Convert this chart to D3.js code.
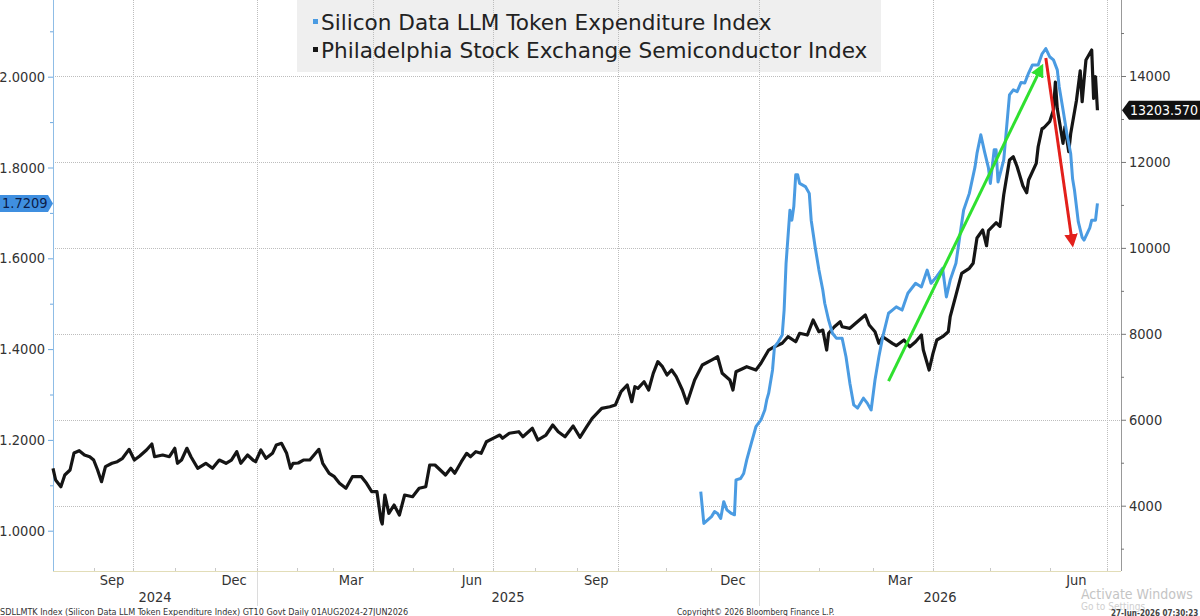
<!DOCTYPE html>
<html>
<head>
<meta charset="utf-8">
<script src="https://cdn.jsdelivr.net/npm/d3@7"></script>
<style>
  body { margin: 0; background: #fff; }
  svg { display: block; }
  text { font-family: "DejaVu Sans Condensed", "DejaVu Sans", sans-serif; font-stretch: condensed; }
  .legend text { font-family: "DejaVu Sans", sans-serif; font-stretch: normal; }
</style>
</head>
<body>
<script>
// chart size and plot box
var width = 1200, height = 616;
var plot = {left: 53, right: 1121, top: 0, bottom: 571};

// Philadelphia Semiconductor Index (right axis)
var soxDates = ["2024-08-01","2024-08-03","2024-08-07","2024-08-10","2024-08-14","2024-08-17","2024-08-21","2024-08-25","2024-08-29","2024-09-01",
  "2024-09-04","2024-09-07","2024-09-10","2024-09-15","2024-09-19","2024-09-23","2024-09-28","2024-10-02","2024-10-06","2024-10-11",
  "2024-10-15","2024-10-17","2024-10-23","2024-10-28","2024-11-01","2024-11-03","2024-11-06","2024-11-10","2024-11-13","2024-11-18",
  "2024-11-24","2024-11-29","2024-12-04","2024-12-09","2024-12-13","2024-12-17","2024-12-20","2024-12-25","2024-12-29","2024-12-31",
  "2025-01-04","2025-01-08","2025-01-13","2025-01-16","2025-01-20","2025-01-24","2025-01-27","2025-01-29","2025-02-02","2025-02-06",
  "2025-02-11","2025-02-18","2025-02-21","2025-02-26","2025-03-02","2025-03-06","2025-03-11","2025-03-16","2025-03-23","2025-03-27",
  "2025-03-31","2025-04-04","2025-04-07","2025-04-08","2025-04-10","2025-04-13","2025-04-17","2025-04-21","2025-04-25","2025-05-01",
  "2025-05-06","2025-05-11","2025-05-14","2025-05-18","2025-05-26","2025-05-30","2025-06-02","2025-06-07","2025-06-11","2025-06-14",
  "2025-06-18","2025-06-22","2025-06-26","2025-07-01","2025-07-06","2025-07-08","2025-07-13","2025-07-20","2025-07-23","2025-07-30",
  "2025-08-03","2025-08-09","2025-08-14","2025-08-18","2025-08-23","2025-08-29","2025-09-03","2025-09-08","2025-09-12","2025-09-19",
  "2025-09-25","2025-09-29","2025-10-03","2025-10-07","2025-10-10","2025-10-12","2025-10-14","2025-10-18","2025-10-21","2025-10-24",
  "2025-10-27","2025-10-30","2025-11-02","2025-11-05","2025-11-08","2025-11-12","2025-11-15","2025-11-20","2025-11-25","2025-12-01",
  "2025-12-05","2025-12-08","2025-12-13","2025-12-15","2025-12-17","2025-12-24","2025-12-30","2026-01-02","2026-01-06","2026-01-09",
  "2026-01-13","2026-01-16","2026-01-20","2026-01-22","2026-01-26","2026-01-29","2026-02-01","2026-02-03","2026-02-05","2026-02-06",
  "2026-02-09","2026-02-12","2026-02-13","2026-02-17","2026-02-20","2026-02-25","2026-02-27","2026-03-02","2026-03-04","2026-03-06",
  "2026-03-11","2026-03-13","2026-03-17","2026-03-20","2026-03-23","2026-03-26","2026-03-27","2026-03-30","2026-04-01","2026-04-03",
  "2026-04-06","2026-04-09","2026-04-10","2026-04-13","2026-04-16","2026-04-20","2026-04-22","2026-04-24","2026-04-27","2026-04-29",
  "2026-04-30","2026-05-04","2026-05-06","2026-05-08","2026-05-11","2026-05-13","2026-05-15","2026-05-18","2026-05-20","2026-05-21",
  "2026-05-25","2026-05-26","2026-05-28","2026-05-29","2026-06-01","2026-06-03","2026-06-04","2026-06-05","2026-06-08","2026-06-09",
  "2026-06-11","2026-06-12","2026-06-15","2026-06-17","2026-06-18","2026-06-19","2026-06-20","2026-06-23","2026-06-24","2026-06-25",
  "2026-06-26"];
var soxValues = [4870,4598,4442,4714,4831,5226,5280,5180,5140,5063,
  4831,4558,4908,4987,5024,5103,5312,5063,5157,5296,
  5436,5140,5180,5140,5336,4987,5063,5336,5140,4870,
  4987,4870,5063,4987,5063,5257,4987,5180,5063,5024,
  5296,5103,5219,5413,5452,5219,4870,4987,4994,5063,
  5063,5312,4987,4754,4675,4521,4405,4675,4675,4521,
  4326,4326,3667,3574,4249,3823,4016,3784,4249,4209,
  4405,4442,4947,4947,4714,4870,4754,5024,5219,5140,
  5257,5219,5489,5568,5645,5568,5685,5722,5606,5801,
  5529,5645,5878,5722,5606,5855,5592,5838,6034,6266,
  6304,6343,6653,6809,6420,6769,6732,6885,6692,7081,
  7351,7235,7041,7158,7002,6692,6383,6925,7274,7390,
  7467,7081,6925,6692,7118,7235,7158,7314,7623,7700,
  7779,7933,7816,8012,7972,8321,8049,8088,7623,8012,
  8165,8282,8165,8128,8244,8438,8205,8049,7779,7933,
  7779,7723,7856,7700,7816,7972,7623,7158,7546,7856,
  7933,8049,8400,8900,9408,9524,9641,10229,10415,10050,
  10400,10585,10500,11237,12045,12121,11888,11446,11284,11579,
  11968,12354,12773,12796,12936,13208,13860,13238,12433,12819,
  12238,12657,13424,14122,13401,13906,14372,14604,13480,13983,
  13203.57];

// Silicon Data LLM Token Expenditure Index (left axis)
var llmDates = ["2025-11-24","2025-11-26","2025-12-01","2025-12-03","2025-12-05","2025-12-07","2025-12-09","2025-12-11","2025-12-14","2025-12-16",
  "2025-12-17","2025-12-20","2025-12-22","2025-12-24","2025-12-27","2025-12-30","2026-01-02","2026-01-04","2026-01-05","2026-01-06",
  "2026-01-08","2026-01-09","2026-01-11","2026-01-13","2026-01-14","2026-01-15","2026-01-17","2026-01-18","2026-01-19","2026-01-20",
  "2026-01-21","2026-01-22","2026-01-25","2026-01-27","2026-01-28","2026-01-30","2026-02-01","2026-02-03","2026-02-04","2026-02-06",
  "2026-02-08","2026-02-10","2026-02-13","2026-02-15","2026-02-17","2026-02-19","2026-02-21","2026-02-24","2026-02-26","2026-02-28",
  "2026-03-02","2026-03-04","2026-03-06","2026-03-09","2026-03-11","2026-03-13","2026-03-16","2026-03-19","2026-03-23","2026-03-26",
  "2026-03-29","2026-03-31","2026-04-03","2026-04-06","2026-04-08","2026-04-10","2026-04-13","2026-04-15","2026-04-17","2026-04-20",
  "2026-04-23","2026-04-24","2026-04-26","2026-04-28","2026-04-30","2026-05-01","2026-05-03","2026-05-04","2026-05-05","2026-05-08",
  "2026-05-11","2026-05-13","2026-05-15","2026-05-17","2026-05-19","2026-05-21","2026-05-23","2026-05-26","2026-05-28","2026-05-30",
  "2026-06-01","2026-06-03","2026-06-05","2026-06-06","2026-06-08","2026-06-10","2026-06-12","2026-06-13","2026-06-14","2026-06-16",
  "2026-06-18","2026-06-19","2026-06-22","2026-06-23","2026-06-25","2026-06-26"];
var llmValues = [1.086,1.016,1.031,1.042,1.038,1.027,1.064,1.046,1.038,1.035,
  1.112,1.115,1.126,1.156,1.193,1.229,1.244,1.266,1.288,1.303,
  1.354,1.405,1.416,1.431,1.486,1.589,1.706,1.684,1.714,1.784,
  1.784,1.765,1.758,1.743,1.684,1.626,1.574,1.530,1.501,1.464,
  1.435,1.424,1.424,1.383,1.325,1.277,1.270,1.292,1.281,1.266,
  1.332,1.383,1.427,1.479,1.486,1.493,1.486,1.523,1.545,1.537,
  1.574,1.545,1.560,1.578,1.515,1.552,1.589,1.648,1.706,1.743,
  1.802,1.831,1.872,1.834,1.799,1.765,1.839,1.839,1.768,1.817,
  1.960,1.971,1.967,1.987,1.986,2.008,2.026,2.026,2.050,2.062,
  2.044,2.037,2.015,1.978,1.927,1.875,1.831,1.775,1.750,1.680,
  1.646,1.640,1.667,1.684,1.684,1.7209];

// axis ticks
var leftMajor = [1.0, 1.2, 1.4, 1.6, 1.8, 2.0];
var leftMinor = [1.1, 1.3, 1.5, 1.7, 1.9, 2.1];
var rightMajor = [4000, 6000, 8000, 10000, 12000, 14000];
var rightMinor = [3000, 5000, 7000, 9000, 11000, 13000, 15000];
var quarterStarts = ["2024-10-01","2025-01-01","2025-04-01","2025-07-01","2025-10-01","2026-01-01","2026-04-01","2026-07-01"];
var monthLabelDates = ["2024-09-15","2024-12-15","2025-03-15","2025-06-15","2025-09-15","2025-12-15","2026-03-15","2026-06-15"];
var years = ["2024", "2025", "2026"];

// legend + annotations
var seriesNames = ["Silicon Data LLM Token Expenditure Index", "Philadelphia Stock Exchange Semiconductor Index"];
var seriesColors = ["#4a9be2", "#151515"];
var upArrow = {from: ["2026-03-09", 6900], to: ["2026-05-28", 14230]};
var downArrow = {from: ["2026-05-30", 14420], to: ["2026-06-13", 10070]};

var parse = d3.timeParse("%Y-%m-%d");

var svg = d3.select("body").append("svg")
    .attr("width", width)
    .attr("height", height);

// the reference time axis is stretched towards the right, so the scale is piecewise
var x = d3.scaleTime()
    .domain(["2024-08-01","2024-10-01","2025-01-01","2025-04-01","2025-07-01","2025-10-01","2026-01-01","2026-04-01","2026-07-01","2026-07-11"].map(parse))
    .range([53, 133, 257, 373, 493, 618, 759, 933, 1107, plot.right]);
var yL = d3.scaleLinear().domain([1, 2]).range([530.7, 76.7]);
var yR = d3.scaleLinear().domain([4000, 14000]).range([505.7, 76]);

// legend box (under the grid)
svg.append("rect")
    .attr("x", 297).attr("y", 0)
    .attr("width", 584).attr("height", 72)
    .attr("fill", "#efefef");

// grid
var grid = svg.append("g").attr("stroke", "#bdbdbd").attr("stroke-dasharray", "1,1");
grid.selectAll(".h").data(rightMajor).enter().append("line")
    .attr("x1", plot.left).attr("x2", plot.right)
    .attr("y1", function(d) { return Math.round(yR(d)) + 0.5; })
    .attr("y2", function(d) { return Math.round(yR(d)) + 0.5; });
grid.selectAll(".v").data(quarterStarts).enter().append("line")
    .attr("y1", plot.top).attr("y2", plot.bottom)
    .attr("x1", function(d) { return Math.round(x(parse(d))) + 0.5; })
    .attr("x2", function(d) { return Math.round(x(parse(d))) + 0.5; });

// year dividers run down through the labels
var yearStarts = quarterStarts.filter(function(d) { return d.slice(5) == "01-01"; });
svg.selectAll(".ydiv").data(yearStarts).enter().append("line")
    .attr("x1", function(d) { return Math.round(x(parse(d))) + 0.5; })
    .attr("x2", function(d) { return Math.round(x(parse(d))) + 0.5; })
    .attr("y1", plot.bottom).attr("y2", 606)
    .attr("stroke", "#dcdcdc");

// bottom axis
svg.append("line")
    .attr("x1", plot.left).attr("x2", plot.right)
    .attr("y1", plot.bottom + 0.5).attr("y2", plot.bottom + 0.5)
    .attr("stroke", "#e2ddb8");
var months = d3.timeMonth.range(parse("2024-09-01"), parse("2026-07-02"));
svg.selectAll(".mtick").data(months).enter().append("line")
    .attr("x1", function(d) { return Math.round(x(d)) + 0.5; })
    .attr("x2", function(d) { return Math.round(x(d)) + 0.5; })
    .attr("y1", plot.bottom - 3).attr("y2", plot.bottom)
    .attr("stroke", "#c8c8c8");

svg.selectAll(".mlab").data(monthLabelDates).enter().append("text")
    .attr("x", function(d) { return x(parse(d)); })
    .attr("y", 585)
    .attr("text-anchor", "middle")
    .attr("font-size", 14.5)
    .attr("fill", "#333")
    .text(function(d) { return d3.timeFormat("%b")(parse(d)); });

svg.selectAll(".ylab").data(years).enter().append("text")
    .attr("x", function(d) {
      var a = Math.max(x(parse(d + "-01-01")), plot.left);
      var b = Math.min(x(parse((+d + 1) + "-01-01")), plot.right);
      return (a + b) / 2;
    })
    .attr("y", 602)
    .attr("text-anchor", "middle")
    .attr("font-size", 14.5)
    .attr("fill", "#333")
    .text(function(d) { return d; });

// left axis
svg.append("line")
    .attr("x1", plot.left + 0.5).attr("x2", plot.left + 0.5)
    .attr("y1", plot.top).attr("y2", plot.bottom)
    .attr("stroke", "#8fbde6");
var gL = svg.append("g").attr("transform", "translate(" + plot.left + ",0)")
    .call(d3.axisLeft(yL).tickValues(leftMajor).tickFormat(d3.format(".4f")).tickSize(5).tickPadding(3));
var gLm = svg.append("g").attr("transform", "translate(" + plot.left + ",0)")
    .call(d3.axisLeft(yL).tickValues(leftMinor).tickFormat("").tickSize(3));
[gL, gLm].forEach(function(g) {
  g.select(".domain").remove();
  g.selectAll("line").attr("stroke", "#6fa9df");
  g.selectAll("text").attr("font-size", 14.5).attr("fill", "#333")
      .attr("font-family", null);
});

// right axis
svg.append("line")
    .attr("x1", plot.right + 0.5).attr("x2", plot.right + 0.5)
    .attr("y1", plot.top).attr("y2", plot.bottom)
    .attr("stroke", "#999");
var gR = svg.append("g").attr("transform", "translate(" + plot.right + ",0)")
    .call(d3.axisRight(yR).tickValues(rightMajor).tickFormat(d3.format("d")).tickSize(5).tickPadding(3));
var gRm = svg.append("g").attr("transform", "translate(" + plot.right + ",0)")
    .call(d3.axisRight(yR).tickValues(rightMinor).tickFormat("").tickSize(3));
[gR, gRm].forEach(function(g) {
  g.select(".domain").remove();
  g.selectAll("line").attr("stroke", "#777");
  g.selectAll("text").attr("font-size", 14.5).attr("fill", "#333")
      .attr("font-family", null);
});

// series
var sox = soxDates.map(function(d, i) { return {date: parse(d), value: soxValues[i]}; });
var llm = llmDates.map(function(d, i) { return {date: parse(d), value: llmValues[i]}; });

svg.append("path")
    .datum(sox)
    .attr("fill", "none")
    .attr("stroke", seriesColors[1])
    .attr("stroke-width", 3.2)
    .attr("stroke-linejoin", "round")
    .attr("d", d3.line().x(function(d) { return x(d.date); }).y(function(d) { return yR(d.value); }));

svg.append("path")
    .datum(llm)
    .attr("fill", "none")
    .attr("stroke", seriesColors[0])
    .attr("stroke-width", 3)
    .attr("stroke-linejoin", "round")
    .attr("d", d3.line().x(function(d) { return x(d.date); }).y(function(d) { return yL(d.value); }));

// arrows
var defs = svg.append("defs");
function arrowHead(id, color) {
  defs.append("marker")
      .attr("id", id)
      .attr("viewBox", "0 0 10 10")
      .attr("refX", 8).attr("refY", 5)
      .attr("markerWidth", 4.5).attr("markerHeight", 4.5)
      .attr("orient", "auto")
    .append("path")
      .attr("d", "M0,0L10,5L0,10z")
      .attr("fill", color);
}
arrowHead("ghead", "#2fe02f");
arrowHead("rhead", "#e3201b");
[[upArrow, "#2fe02f", "ghead"], [downArrow, "#e3201b", "rhead"]].forEach(function(a) {
  svg.append("line")
      .attr("x1", x(parse(a[0].from[0]))).attr("y1", yR(a[0].from[1]))
      .attr("x2", x(parse(a[0].to[0]))).attr("y2", yR(a[0].to[1]))
      .attr("stroke", a[1])
      .attr("stroke-width", 3)
      .attr("marker-end", "url(#" + a[2] + ")");
});

// legend text
var leg = svg.append("g").attr("class", "legend");
seriesNames.forEach(function(name, i) {
  leg.append("rect")
      .attr("x", 313).attr("y", 19 + i * 28)
      .attr("width", 5).attr("height", 5)
      .attr("fill", seriesColors[i]);
  leg.append("text")
      .attr("x", 321).attr("y", 30 + i * 28)
      .attr("font-size", 21.6)
      .attr("fill", "#222")
      .text(name);
});

// last value tags
var lastL = llmValues[llmValues.length - 1];
var cyL = yL(lastL);
svg.append("path")
    .attr("d", "M0," + (cyL - 8.5) + "H48L53," + cyL + "L48," + (cyL + 8.5) + "H0Z")
    .attr("fill", "#3f8fe0");
svg.append("text")
    .attr("x", 2).attr("y", cyL + 5)
    .attr("font-size", 14.5)
    .attr("fill", "#0c1c48")
    .text(d3.format(".4f")(lastL));

var lastR = soxValues[soxValues.length - 1];
var cyR = yR(lastR);
svg.append("path")
    .attr("d", "M1122," + cyR + "L1129," + (cyR - 9.5) + "H1200V" + (cyR + 9.5) + "H1129Z")
    .attr("fill", "#111");
svg.append("text")
    .attr("x", 1130).attr("y", cyR + 5)
    .attr("font-size", 14)
    .attr("fill", "#fff")
    .text(d3.format(".3f")(lastR));

// footer
svg.append("text")
    .attr("x", 0).attr("y", 615)
    .attr("font-size", 9).attr("fill", "#333")
    .text("SDLLMTK Index (Silicon Data LLM Token Expenditure Index) GT10  Govt Daily 01AUG2024-27JUN2026");
svg.append("text")
    .attr("x", 677).attr("y", 615)
    .attr("font-size", 8.5).attr("fill", "#333")
    .text("Copyright\u00a9 2026 Bloomberg Finance L.P.");
svg.append("text")
    .attr("x", 1081).attr("y", 599)
    .attr("font-size", 14).attr("fill", "#c4c4c4")
    .text("Activate Windows");
svg.append("text")
    .attr("x", 1081).attr("y", 610)
    .attr("font-size", 10).attr("fill", "#cfcfcf")
    .text("Go to Settings");
svg.append("text")
    .attr("x", 1111).attr("y", 615.5)
    .attr("font-size", 8).attr("font-weight", "bold").attr("fill", "#444")
    .text("27-Jun-2026 07:30:23");
</script>
</body>
</html>
